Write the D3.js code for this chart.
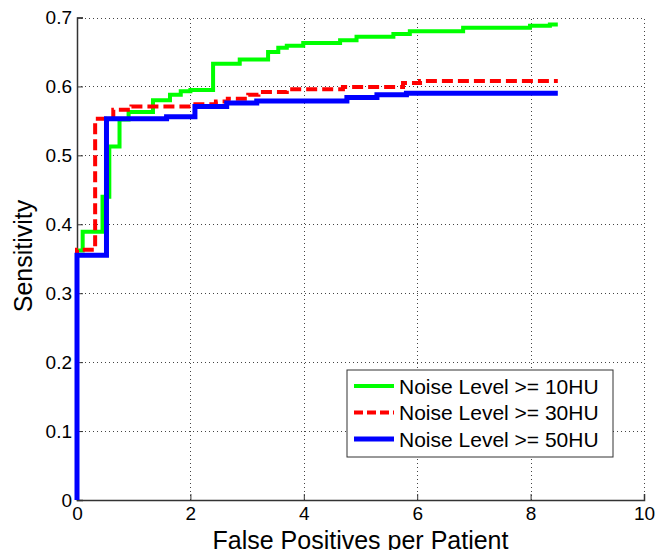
<!DOCTYPE html>
<html>
<head>
<meta charset="utf-8">
<script src="https://cdn.jsdelivr.net/npm/d3@7"></script>
<style>
  body { margin: 0; background: #fff; }
  text { font-family: "Liberation Sans", Arial, sans-serif; fill: #000; }
</style>
</head>
<body>
<div id="chart"></div>
<script>
// Size of the picture and the plot box
const width = 655;
const height = 550;
const margin = { top: 17.5, right: 11, bottom: 50, left: 77 };

// Step curves: [false positives per patient, sensitivity]
const noise10 = [
    [0, 0], [0, 0.362], [0.10, 0.389], [0.45, 0.440], [0.57, 0.513], [0.75, 0.552],
    [0.91, 0.563], [1.34, 0.580], [1.64, 0.588], [1.83, 0.593], [2.0, 0.595],
    [2.40, 0.633], [2.87, 0.639], [3.37, 0.650], [3.55, 0.656], [3.70, 0.659],
    [3.99, 0.663], [4.64, 0.667], [4.93, 0.672], [5.58, 0.676], [5.87, 0.680],
    [6.81, 0.685], [7.99, 0.688], [8.34, 0.690], [8.48, 0.690]
];
const noise30 = [
    [0, 0], [0, 0.363], [0.32, 0.553], [0.64, 0.566], [0.96, 0.571], [2.05, 0.574],
    [2.45, 0.578], [2.66, 0.582], [3.02, 0.588], [3.2, 0.592], [3.70, 0.596],
    [4.69, 0.599], [5.75, 0.605], [6.05, 0.608], [8.48, 0.608]
];
const noise50 = [
    [0, 0], [0, 0.355], [0.52, 0.553], [1.58, 0.556], [2.08, 0.571], [2.64, 0.576],
    [3.17, 0.579], [4.76, 0.584], [5.29, 0.588], [5.81, 0.590], [8.48, 0.590]
];

const seriesNames = ["Noise Level >= 10HU", "Noise Level >= 30HU", "Noise Level >= 50HU"];
const seriesData = [noise10, noise30, noise50];
const seriesColors = ["#00ff00", "#ff0000", "#0000ff"];
const seriesDash = [null, "11,5", null];
const seriesWidth = [4, 4, 5];

const xTicks = [0, 2, 4, 6, 8, 10];
const yTicks = [0, 0.1, 0.2, 0.3, 0.4, 0.5, 0.6, 0.7];

const svg = d3.select("#chart")
    .append("svg")
    .attr("width", width)
    .attr("height", height);

const x = d3.scaleLinear().domain([0, 10]).range([margin.left, width - margin.right]);
const y = d3.scaleLinear().domain([0, 0.7]).range([height - margin.bottom, margin.top]);

// Dotted grid
const grid = svg.append("g")
    .attr("stroke", "#444")
    .attr("stroke-width", 1)
    .attr("stroke-dasharray", "1,3");
grid.selectAll(".gx").data(xTicks.slice(1)).enter().append("line")
    .attr("x1", d => Math.round(x(d)) + 0.5).attr("x2", d => Math.round(x(d)) + 0.5)
    .attr("y1", y(0)).attr("y2", y(0.7));
grid.selectAll(".gy").data(yTicks.slice(1)).enter().append("line")
    .attr("y1", d => Math.round(y(d)) + 0.5).attr("y2", d => Math.round(y(d)) + 0.5)
    .attr("x1", x(0)).attr("x2", x(10));

// Axes, ticks pointing inside like matlab
const xAxis = svg.append("g")
    .attr("transform", `translate(0,${y(0)})`)
    .call(d3.axisBottom(x).tickValues(xTicks).tickSize(-6).tickPadding(7).tickFormat(d3.format("d")));
const yAxis = svg.append("g")
    .attr("transform", `translate(${x(0)},0)`)
    .call(d3.axisLeft(y).tickValues(yTicks).tickSize(-6).tickPadding(5).tickFormat(d => d === 0 ? "0" : d3.format(".1f")(d)));

[xAxis, yAxis].forEach(a => {
    a.select(".domain").attr("stroke", "#333").attr("stroke-width", 1.5);
    a.selectAll(".tick line").attr("stroke", "#333");
    a.selectAll("text").style("font-size", "19px").attr("fill", "#000");
});

// Step lines
const line = d3.line()
    .x(d => x(d[0]))
    .y(d => y(d[1]))
    .curve(d3.curveStepAfter);

seriesData.forEach(function (data, i) {
    svg.append("path")
        .datum(data)
        .attr("fill", "none")
        .attr("stroke", seriesColors[i])
        .attr("stroke-width", seriesWidth[i])
        .attr("stroke-dasharray", seriesDash[i])
        .attr("d", line);
});

// Axis labels
svg.append("text")
    .attr("x", (x(0) + x(10)) / 2)
    .attr("y", 549)
    .attr("text-anchor", "middle")
    .style("font-size", "25px")
    .text("False Positives per Patient");

svg.append("text")
    .attr("transform", "translate(32,256) rotate(-90)")
    .attr("text-anchor", "middle")
    .style("font-size", "25px")
    .text("Sensitivity");

// Legend
const legend = svg.append("g").attr("transform", "translate(347,370)");
legend.append("rect")
    .attr("width", 266).attr("height", 87)
    .attr("fill", "#fff").attr("stroke", "#333").attr("stroke-width", 1);

seriesNames.forEach(function (name, i) {
    const row = legend.append("g").attr("transform", `translate(0,${16 + i * 26.5})`);
    row.append("line")
        .attr("x1", 7).attr("x2", 47)
        .attr("stroke", seriesColors[i])
        .attr("stroke-width", seriesWidth[i])
        .attr("stroke-dasharray", seriesDash[i] ? "9,4" : null);
    row.append("text")
        .attr("x", 52).attr("y", 7.5)
        .style("font-size", "21px")
        .text(name);
});
</script>
</body>
</html>
